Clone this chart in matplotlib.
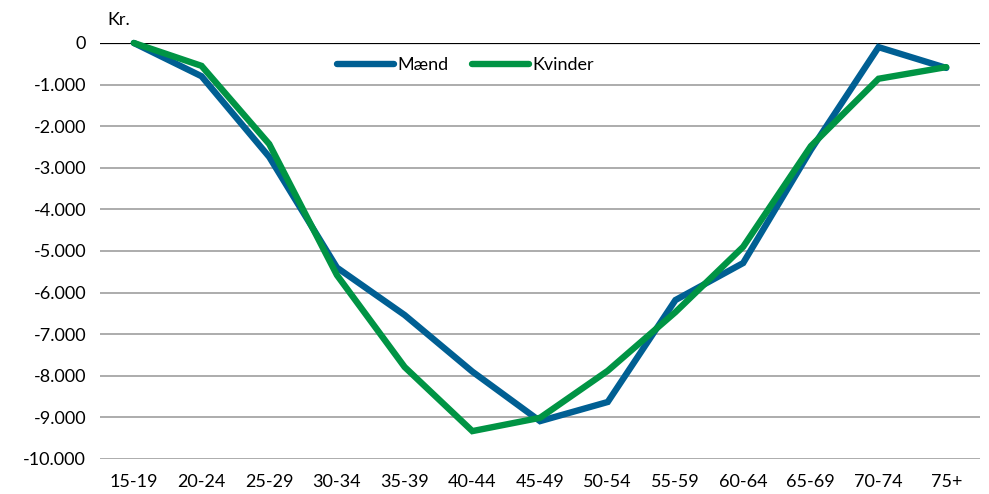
import matplotlib
matplotlib.use('Agg')
import matplotlib.pyplot as plt
from matplotlib.ticker import FuncFormatter

categories = ['15-19', '20-24', '25-29', '30-34', '35-39', '40-44', '45-49',
              '50-54', '55-59', '60-64', '65-69', '70-74', '75+']
maend = [0, -800, -2740, -5400, -6540, -7900, -9090, -8630, -6180, -5290, -2570, -100, -600]
kvinder = [0, -550, -2430, -5580, -7790, -9330, -9010, -7880, -6470, -4900, -2480, -860, -580]

plt.rcParams['font.family'] = ['Lato', 'DejaVu Sans']

fig = plt.figure(figsize=(9.89, 4.94), dpi=100)
ax = fig.add_axes([0.1011, 0.0709, 0.8899, 0.8421])

x = range(len(categories))
ax.plot(x, maend, color='#005F93', lw=4.6, label='Mænd', solid_capstyle='round',
        solid_joinstyle='miter', zorder=3, clip_on=False)
ax.plot(x, kvinder, color='#009444', lw=4.6, label='Kvinder', solid_capstyle='round',
        solid_joinstyle='miter', zorder=4, clip_on=False)

ax.set_xlim(-0.5, len(categories) - 0.5)
ax.set_ylim(-10000, 0)
ax.set_yticks(range(-10000, 1, 1000))
ax.yaxis.set_major_formatter(FuncFormatter(lambda v, p: f'{int(v):,}'.replace(',', '.')))
ax.set_xticks(list(x))
ax.set_xticklabels(categories)

ax.grid(axis='y', color='#A6A6A6', lw=1.3, zorder=0)
ax.axhline(0, color='black', lw=1.6, zorder=2)
for s in ax.spines.values():
    s.set_visible(False)
ax.tick_params(length=0, labelsize=13, pad=10)
ax.tick_params(axis='x', pad=11)

ax.text(0.008, 1.035, 'Kr.', transform=ax.transAxes, fontsize=13, ha='left', va='bottom')

ax.legend(loc='upper center', bbox_to_anchor=(0.415, 1.005), ncol=2, frameon=False,
          fontsize=13, handlelength=3.2, handletextpad=0.15, columnspacing=1.3)

fig.savefig('out.png', dpi=100)
